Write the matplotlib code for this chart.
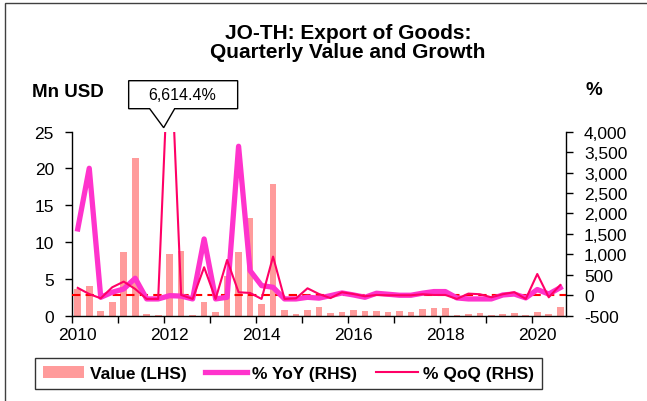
import matplotlib
matplotlib.use("Agg")
import matplotlib.pyplot as plt
from matplotlib.patches import Polygon, Rectangle
from matplotlib.ticker import FuncFormatter, FixedLocator
from matplotlib.transforms import Affine2D, ScaledTranslation

plt.rcParams['font.family'] = ['Liberation Sans', 'DejaVu Sans']

# quarterly data, 2010Q1 .. 2020Q3
year_labels = ["2010", "2012", "2014", "2016", "2018", "2020"]
value_mn_usd = [3.6, 4.0, 0.64, 1.9, 8.6, 21.4, 0.2, 0.05, 8.4, 8.8, 0.15, 1.8,
                0.45, 5.4, 8.7, 13.3, 1.6, 17.9, 0.77, 0.2, 0.77, 1.2, 0.37, 0.45,
                0.77, 0.65, 0.6, 0.55, 0.65, 0.55, 0.87, 1.05, 1.05, 0.15, 0.25, 0.4,
                0.15, 0.2, 0.35, 0.05, 0.5, 0.25, 1.15]
yoy_pct = [1622, 3106, -50, 73, 154, 416, -90, -90, -10, -20, -90, 1377,
           -90, -50, 3644, 602, 236, 195, -90, -90, -50, -70, -10, 56,
           7, -50, 49, 25, 0, 0, 50, 90, 90, -65, -90, -90,
           -90, 7, 30, -65, 140, 30, 185]
qoq_pct = [180, 30, -75, 195, 333, 154, -90, -90, 6614.4, 7, -90, 685,
           -90, 863, 73, 56, -90, 945, -90, -75, 170, 30, -70, 73,
           30, -25, 7, 0, 0, 0, 25, 7, 7, -90, 40, 25,
           -50, 25, 75, -90, 520, -50, 250]

n = len(value_mn_usd)
x = list(range(n))
tick_fs = 12.5

fig = plt.figure(figsize=(6.47, 4.02), dpi=100)
ax = fig.add_axes([0.1113, 0.2122, 0.7635, 0.4577])
ax2 = ax.twinx()

bars = ax.bar(x, value_mn_usd, width=0.58, color='#FF9B9B', label='Value (LHS)', zorder=2)
ax.set_xlim(-0.5, n - 0.5)
ax.set_ylim(0, 25)
ax.set_yticks(range(0, 26, 5))

ax2.axhline(0, color='#FF0000', lw=1.5, ls=(0, (4, 2.5)), zorder=1)
l_yoy, = ax2.plot(x, yoy_pct, color='#FF33CC', lw=3.8, solid_joinstyle='round',
                  label='% YoY (RHS)', zorder=2)
l_qoq, = ax2.plot(x, qoq_pct, color='#FF0066', lw=1.5, label='% QoQ (RHS)', zorder=3)
ax2.set_ylim(-500, 4000)
ax2.set_yticks(range(-500, 4001, 500))
ax2.yaxis.set_major_formatter(FuncFormatter(lambda v, p: f"{v:,.0f}"))

# year ticks at quarter boundaries, labels under every second year
ax.set_xticks([i - 0.5 for i in range(0, n + 1, 4)])
ax.set_xticklabels([])
ax.xaxis.set_minor_locator(FixedLocator(list(range(0, n, 8))))
ax.set_xticklabels(year_labels, minor=True)
ax.tick_params(axis='x', which='minor', length=0, pad=8, labelsize=tick_fs)
ax.tick_params(axis='x', which='major', direction='out', length=5, width=1)
ax.tick_params(axis='y', direction='out', length=5, width=1, pad=8, labelsize=tick_fs)
ax2.tick_params(axis='y', direction='out', length=5, width=1, pad=8, labelsize=tick_fs)

for a in (ax, ax2):
    a.spines['top'].set_visible(False)
    for s in ('left', 'right', 'bottom'):
        a.spines[s].set_linewidth(1)
        a.spines[s].set_color('black')
ax.spines['right'].set_visible(False)
ax2.spines['left'].set_visible(False)
ax2.spines['bottom'].set_visible(False)

# callout for the clipped QoQ spike
peak = max(range(n), key=lambda i: qoq_pct[i])
anchor = Affine2D() + ScaledTranslation(peak, 4000, ax2.transData)
callout = [(-41, 23), (-20, 23), (-6, 4), (5, 23), (68, 23), (68, 51), (-41, 51)]
ax2.add_patch(Polygon(callout, closed=True, facecolor='white', edgecolor='black',
                      lw=1, transform=anchor, clip_on=False, zorder=5))
ax2.text(13, 37, f"{qoq_pct[peak]:,.1f}%", transform=anchor, ha='center', va='center',
         fontsize=11.5, zorder=6, clip_on=False)

fig.text(0.538, 0.893, "JO-TH: Export of Goods:\nQuarterly Value and Growth",
         ha='center', va='center', fontsize=15, fontweight='bold', linespacing=1.05)
fig.text(0.0495, 0.771, "Mn USD", ha='left', va='center', fontsize=13.5, fontweight='bold')
fig.text(0.918, 0.776, "%", ha='center', va='center', fontsize=13.5, fontweight='bold')

leg = fig.legend([bars, l_yoy, l_qoq], ['Value (LHS)', '% YoY (RHS)', '% QoQ (RHS)'],
                 loc='center', bbox_to_anchor=(0.446, 0.0684), ncol=3,
                 prop={'weight': 'bold', 'size': 12.5}, handlelength=2.4,
                 handletextpad=0.3, columnspacing=1.1, fancybox=False,
                 edgecolor='black', borderpad=0.45)
leg.get_frame().set_linewidth(1)

fig.add_artist(Rectangle((5 / 647, -0.05), 1.1, 1.05 - 4 / 402, transform=fig.transFigure,
                         fill=False, edgecolor='#404040', lw=1))

fig.savefig("out.png", dpi=100)
